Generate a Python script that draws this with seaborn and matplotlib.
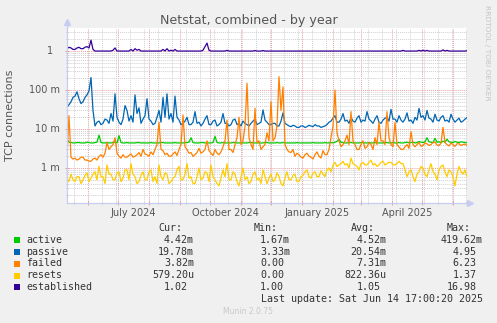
import numpy as np
import pandas as pd
import matplotlib
matplotlib.use("Agg")
import matplotlib.pyplot as plt
import matplotlib.dates as mdates
import matplotlib.transforms as mtransforms
from matplotlib.ticker import FixedLocator, NullFormatter
import seaborn as sns

# ---- data: one sample every 2 days, 2024-05-10 .. 2025-06-14 ----
series_names = ["active", "passive", "failed", "resets", "established"]
series_colors = ["#00CC00", "#0066B3", "#FF8000", "#FFCC00", "#330099"]

# values in milli-connections per second
active_m = [
    5.5, 4.6, 4.5, 4.4, 4.4, 4.5, 4.5, 4.4, 4.4, 4.4, 4.6, 4.5, 4.4, 4.4, 4.5, 4.6, 7.0, 4.5, 4.4, 4.4,
    4.5, 4.4, 4.4, 4.5, 4.6, 4.4, 6.8, 4.5, 4.4, 4.4, 4.5, 4.4, 4.4, 4.4, 4.4, 4.5, 4.5, 4.4, 4.4, 4.4,
    4.4, 4.4, 4.5, 4.4, 4.4, 4.4, 4.4, 4.5, 4.5, 4.4, 4.4, 4.4, 4.4, 4.4, 4.5, 4.4, 4.4, 4.4, 4.4, 4.5,
    4.5, 4.6, 6.0, 4.5, 4.4, 4.4, 4.4, 4.5, 4.5, 4.4, 4.4, 4.4, 4.4, 4.5, 6.5, 4.5, 4.4, 4.4, 4.5, 4.4,
    4.4, 4.4, 4.4, 4.5, 4.5, 4.4, 4.4, 4.4, 4.4, 4.4, 4.4, 4.5, 4.5, 4.4, 4.4, 4.4, 4.4, 4.4, 4.4, 4.5,
    4.5, 4.4, 4.4, 4.4, 4.4, 4.5, 4.4, 4.4, 4.5, 4.4, 4.4, 4.4, 4.4, 4.4, 4.4, 4.5, 4.4, 4.4, 4.4, 4.4,
    4.4, 4.4, 4.4, 4.5, 4.4, 4.4, 4.4, 4.4, 4.4, 4.5, 4.4, 4.4, 4.5, 4.4, 4.6, 4.8, 5.5, 4.6, 4.5, 4.4,
    4.4, 4.5, 4.5, 4.4, 4.4, 4.4, 4.4, 4.5, 4.5, 4.4, 4.4, 4.5, 4.4, 4.4, 4.5, 4.4, 4.4, 4.4, 4.4, 4.5,
    4.5, 4.4, 4.4, 4.5, 4.4, 4.4, 4.5, 4.4, 4.4, 4.5, 4.6, 4.4, 4.5, 4.6, 4.4, 4.5, 4.8, 4.6, 4.5, 4.7,
    6.0, 4.7, 4.6, 4.5, 5.8, 4.6, 4.7, 4.5, 4.9, 4.6, 5.5, 4.7, 4.6, 4.5, 4.8, 4.6, 4.5, 4.7, 4.6, 4.5,
    4.42,
]
passive_m = [
    37, 42, 50, 65, 70, 90, 60, 45, 50, 65, 75, 95, 210, 30, 12, 15, 16, 13, 14, 18,
    17, 14, 25, 16, 80, 20, 15, 13, 18, 40, 30, 16, 22, 15, 75, 25, 35, 14, 18, 22,
    60, 18, 16, 13, 14, 20, 30, 15, 65, 20, 80, 18, 25, 15, 70, 20, 17, 13, 14, 16,
    20, 13, 13, 15, 28, 14, 15, 12, 14, 18, 22, 13, 13, 16, 17, 12, 13, 15, 25, 14,
    14, 12, 13, 17, 18, 13, 14, 12, 16, 14, 13, 12, 14, 16, 18, 13, 14, 15, 31, 17,
    15, 13, 13, 14, 14, 12, 12, 16, 26, 14, 13, 12, 11.5, 12.5, 12, 11, 11, 12, 12, 11,
    11.5, 12.5, 12, 11.5, 13, 12, 12, 11, 11.5, 12, 13, 15, 16, 19, 22, 15, 15, 18, 25, 16,
    17, 14, 20, 16, 15, 19, 22, 15, 17, 16, 28, 18, 16, 14, 18, 22, 15, 14, 17, 19,
    20, 16, 32, 18, 18, 15, 22, 17, 15, 18, 26, 16, 17, 14, 20, 17, 34, 20, 22, 17,
    30, 19, 18, 15, 24, 17, 16, 20, 22, 16, 17, 15, 24, 18, 15, 17, 19, 15, 16, 18,
    19.78,
]
failed_m = [
    2.0, 22, 1.9, 1.7, 1.8, 1.6, 1.7, 1.9, 1.9, 1.6, 1.6, 1.5, 1.5, 1.7, 1.8, 1.6, 2.0, 2.2, 1.9, 2.4,
    4.5, 3.0, 3.5, 4.0, 6.0, 2.4, 2.0, 1.8, 2.2, 1.9, 1.9, 2.1, 2.3, 1.9, 2.0, 2.2, 2.5, 2.0, 3.0, 2.3,
    2.2, 2.0, 2.6, 2.2, 3.0, 4.0, 15, 3.0, 2.8, 2.2, 2.4, 2.0, 2.0, 2.3, 2.6, 2.1, 3.0, 4.0, 23, 3.5,
    3.0, 2.4, 2.5, 2.0, 2.2, 2.5, 3.2, 2.4, 2.6, 3.0, 5.0, 2.8, 2.4, 2.1, 3.0, 2.4, 2.2, 2.6, 3.5, 5.0,
    17, 3.0, 3.0, 2.5, 4.0, 6.0, 20, 4.0, 5.0, 12, 150, 6.0, 4.0, 3.0, 34, 4.5, 5.0, 3.0, 3.5, 4.0,
    8.0, 5.0, 50, 5.0, 6.0, 12, 220, 30, 120, 4.0, 3.0, 2.6, 2.5, 3.0, 2.0, 2.4, 2.2, 1.9, 1.8, 2.2,
    2.4, 2.0, 1.9, 1.7, 2.2, 2.6, 2.0, 1.8, 2.8, 2.2, 2.2, 3.0, 6.0, 12, 100, 8.0, 5.0, 3.5, 4.0, 5.0,
    7.0, 4.0, 28, 5.0, 4.0, 3.0, 3.0, 4.0, 5.0, 3.2, 3.5, 4.5, 4.0, 3.0, 6.0, 4.0, 15, 5.0, 5.0, 4.0,
    28, 6.0, 4.0, 3.5, 15, 4.0, 3.5, 3.0, 3.0, 3.5, 4.0, 3.2, 8.6, 4.0, 3.5, 4.0, 4.5, 3.6, 3.8, 4.4,
    4.2, 3.8, 4.0, 4.5, 4.6, 3.9, 3.8, 4.3, 11, 4.5, 4.0, 3.7, 4.4, 4.0, 3.6, 4.2, 4.2, 3.8, 4.0, 4.1,
    3.82,
]
resets_m = [
    0.55, 0.45, 0.7, 0.5, 0.45, 0.6, 0.6, 0.4, 0.5, 0.65, 0.75, 0.45, 0.55, 0.7, 0.8, 0.5, 1.1, 0.6, 0.6, 0.4,
    1.2, 0.7, 0.7, 0.5, 0.5, 0.75, 0.8, 0.45, 0.55, 0.9, 0.9, 0.5, 1.3, 0.7, 0.6, 0.4, 0.45, 0.65, 0.8, 0.5,
    0.5, 0.8, 0.9, 0.45, 0.6, 0.4, 1.2, 0.6, 0.5, 0.75, 0.7, 0.4, 0.45, 0.55, 0.6, 0.9, 1.1, 0.5, 0.5, 0.7,
    1.3, 0.55, 0.6, 0.4, 0.4, 0.6, 1.0, 0.5, 0.55, 0.8, 0.75, 0.45, 1.2, 0.6, 0.5, 0.4, 0.35, 0.55, 0.9, 0.6,
    1.3, 0.5, 0.5, 0.8, 0.7, 0.45, 0.35, 0.6, 1.0, 0.5, 0.6, 0.4, 0.45, 0.7, 0.8, 0.5, 0.55, 0.4, 0.9, 0.6,
    0.4, 0.55, 0.7, 0.45, 0.5, 0.75, 0.6, 0.4, 0.35, 0.55, 0.8, 0.5, 0.5, 0.65, 0.7, 0.45, 0.45, 0.6, 0.65, 0.8,
    0.9, 0.6, 0.55, 0.75, 0.8, 0.6, 0.6, 0.85, 0.7, 0.6, 0.9, 1.0, 0.8, 1.2, 1.4, 1.1, 1.2, 1.3, 1.5, 1.2,
    1.3, 1.0, 1.8, 1.3, 1.2, 1.1, 0.9, 1.3, 1.4, 1.2, 1.2, 1.4, 1.6, 1.2, 1.3, 1.1, 1.2, 1.4, 1.5, 1.2,
    1.3, 1.4, 1.4, 1.2, 1.2, 1.3, 1.5, 1.3, 1.3, 0.9, 0.6, 0.8, 0.9, 0.6, 0.45, 0.7, 0.8, 1.1, 1.0, 0.7,
    0.6, 0.9, 1.3, 0.8, 0.7, 0.5, 0.9, 1.1, 1.2, 0.8, 0.6, 0.9, 0.8, 0.6, 0.35, 0.7, 1.1, 0.8, 0.7, 0.9,
    0.5792,
]
# established connections (plain units)
established = [
    1.15, 1.25, 1.2, 1.1, 1.1, 1.2, 1.25, 1.15, 1.15, 1.25, 1.3, 1.2, 1.9, 1.1, 1.0, 1.0, 1.0, 1.0, 1.0, 1.0,
    1.0, 1.0, 1.0, 1.05, 1.2, 1.0, 1.0, 1.0, 1.0, 1.0, 1.0, 1.0, 1.1, 1.0, 1.15, 1.05, 1.1, 1.0, 1.0, 1.0,
    1.0, 1.0, 1.0, 1.0, 1.0, 1.0, 1.0, 1.0, 1.1, 1.0, 1.15, 1.0, 1.05, 1.0, 1.1, 1.0, 1.0, 1.0, 1.0, 1.0,
    1.0, 1.0, 1.0, 1.0, 1.0, 1.0, 1.0, 1.0, 1.05, 1.3, 1.6, 1.05, 1.0, 1.0, 1.0, 1.0, 1.0, 1.0, 1.0, 1.0,
    1.04, 1.0, 1.0, 1.0, 1.0, 1.0, 1.0, 1.0, 1.0, 1.0, 1.0, 1.0, 1.0, 1.0, 1.03, 1.0, 1.0, 1.0, 1.03, 1.0,
    1.0, 1.0, 1.0, 1.0, 1.0, 1.0, 1.0, 1.0, 1.0, 1.0, 1.0, 1.0, 1.0, 1.0, 1.0, 1.0, 1.0, 1.0, 1.0, 1.0,
    1.0, 1.0, 1.0, 1.0, 1.0, 1.0, 1.0, 1.0, 1.0, 1.0, 1.0, 1.0, 1.0, 1.0, 1.0, 1.0, 1.0, 1.0, 1.0, 1.0,
    1.0, 1.0, 1.0, 1.0, 1.0, 1.0, 1.0, 1.0, 1.0, 1.0, 1.0, 1.0, 1.0, 1.0, 1.0, 1.0, 1.0, 1.0, 1.0, 1.0,
    1.0, 1.0, 1.0, 1.0, 1.0, 1.0, 1.0, 1.0, 1.04, 1.0, 1.0, 1.0, 1.0, 1.0, 1.0, 1.0, 1.04, 1.0, 1.05, 1.0,
    1.04, 1.0, 1.0, 1.0, 1.0, 1.0, 1.0, 1.0, 1.07, 1.0, 1.04, 1.0, 1.0, 1.0, 1.0, 1.0, 1.0, 1.0, 1.0, 1.0,
    1.02,
]

cur_text = ["4.42m", "19.78m", "3.82m", "579.20u", "1.02"]
min_text = ["1.67m", "3.33m", "0.00", "0.00", "1.00"]
avg_text = ["4.52m", "20.54m", "7.31m", "822.36u", "1.05"]
max_text = ["419.62m", "4.95", "6.23", "1.37", "16.98"]
column_heads = ["Cur:", "Min:", "Avg:", "Max:"]

y_tick_values = [1e-3, 1e-2, 1e-1, 1.0]
y_tick_labels = ["1 m", "10 m", "100 m", "1"]
x_label_dates = ["2024-07-16", "2024-10-16", "2025-01-16", "2025-04-16"]
x_label_texts = ["July 2024", "October 2024", "January 2025", "April 2025"]

title = "Netstat, combined - by year"
last_update = "Last update: Sat Jun 14 17:00:20 2025"

# ---- long-form table ----
dates = pd.date_range("2024-05-10 17:00", periods=len(active_m), freq="2D")
values = {
    "active": np.array(active_m) / 1000.0,
    "passive": np.array(passive_m) / 1000.0,
    "failed": np.array(failed_m) / 1000.0,
    "resets": np.array(resets_m) / 1000.0,
    "established": np.array(established),
}
df = pd.concat(
    [pd.DataFrame({"date": dates, "value": values[n], "series": n}) for n in series_names],
    ignore_index=True,
)

# ---- figure ----
W, H = 497, 323
BG = "#F0F0F0"
TXT = "#555555"
AXIS = "#C8CCF0"

def fxy(x, y):
    return x / W, 1 - y / H

fig = plt.figure(figsize=(W / 100, H / 100), dpi=100, facecolor=BG)
ax = fig.add_axes([67 / W, 1 - 203 / H, 400 / W, 175 / H])
ax.set_facecolor("white")

sns.lineplot(
    data=df, x="date", y="value", hue="series", hue_order=series_names,
    palette=dict(zip(series_names, series_colors)), legend=False,
    linewidth=0.9, estimator=None, ax=ax,
)

ax.set_yscale("log")
ax.set_ylim(1.27e-4, 3.9)
ax.set_xlim(dates[0], dates[-1])
ax.set_xlabel("")
ax.set_ylabel("")

# grid: month starts / decades in red, fortnights / sub-decades in grey
months = pd.date_range("2024-06-01", "2025-06-01", freq="MS")
fortnights = pd.date_range("2024-05-18", "2025-06-14", freq="14D")
ax.xaxis.set_major_locator(FixedLocator(mdates.date2num(months)))
ax.xaxis.set_minor_locator(FixedLocator(mdates.date2num(fortnights)))
ax.xaxis.set_major_formatter(NullFormatter())
ax.xaxis.set_minor_formatter(NullFormatter())
minor_y = [k * 10.0 ** e for e in range(-4, 1) for k in range(2, 10)]
ax.yaxis.set_major_locator(FixedLocator(y_tick_values))
ax.yaxis.set_minor_locator(FixedLocator(minor_y))
ax.yaxis.set_major_formatter(NullFormatter())
ax.yaxis.set_minor_formatter(NullFormatter())

dots = (0, (1, 1))
ax.grid(which="major", color="#EBA0A0", linestyle=dots, linewidth=0.7)
ax.grid(which="minor", color="#D0D0D0", linestyle=dots, linewidth=0.7)
ax.set_axisbelow(True)
ax.tick_params(which="major", color="#E08A8A", length=2.5, width=0.6, direction="inout")
ax.tick_params(which="minor", color="#BBBBBB", length=2.0, width=0.6, direction="inout")

for s in ("top", "right"):
    ax.spines[s].set_visible(False)
for s in ("left", "bottom"):
    ax.spines[s].set_color(AXIS)
    ax.spines[s].set_linewidth(0.9)

# axis arrows
ax.plot([0, 0], [1, 1.035], transform=ax.transAxes, color=AXIS, lw=0.9, clip_on=False)
ax.plot([0], [1.035], transform=ax.transAxes, marker="^", ms=4.5, color=AXIS, clip_on=False)
ax.plot([1, 1.008], [0, 0], transform=ax.transAxes, color=AXIS, lw=0.9, clip_on=False)
ax.plot([1.008], [0], transform=ax.transAxes, marker=">", ms=4.5, color=AXIS, clip_on=False)

# y tick labels
ytrans = mtransforms.blended_transform_factory(fig.transFigure, ax.transData)
for v, lab in zip(y_tick_values, y_tick_labels):
    xr = 60 if lab.endswith("m") else 53.5
    ax.text(xr / W, v, lab, transform=ytrans, ha="right", va="center", fontsize=7, color=TXT)

# x tick labels at mid-month
xtrans = mtransforms.blended_transform_factory(ax.transData, fig.transFigure)
for d, lab in zip(x_label_dates, x_label_texts):
    ax.text(mdates.date2num(pd.Timestamp(d)), 1 - 212.5 / H, lab, transform=xtrans,
            ha="center", va="center", fontsize=7, color=TXT)

# title, axis label, side credit
fig.text(*fxy(248.5, 24), title, ha="center", va="baseline", fontsize=9.1, color=TXT)
fig.text(*fxy(10.5, 115), "TCP connections", rotation=90, ha="center", va="center", fontsize=8, color=TXT)
fig.text(*fxy(487, 5), "RRDTOOL / TOBI OETIKER", rotation=270, ha="center", va="top",
         fontsize=5.4, color="#C4C4C4")

# legend table
MONO = "DejaVu Sans Mono"
FS = 7.2
CW = FS * 100 / 72 * 0.602
col_end = [194.0, 290.0, 386.7, 482.7]
row_y = [239.7, 251.7, 263.5, 275.5, 287.3]
LEG = "#333333"

for c, head in enumerate(column_heads):
    fig.text(*fxy(col_end[c] - 2 * CW, 227.7), head, ha="right", va="center",
             family=MONO, fontsize=FS, color=LEG)

cols = [cur_text, min_text, avg_text, max_text]
for r, name in enumerate(series_names):
    y = row_y[r]
    fig.patches.append(plt.Rectangle(fxy(14, y + 3), 6 / W, 6 / H, transform=fig.transFigure,
                                     facecolor=series_colors[r], edgecolor="none"))
    fig.text(*fxy(26.3, y), name, ha="left", va="center", family=MONO, fontsize=FS, color=LEG)
    for c in range(4):
        s = cols[c][r]
        xr = col_end[c] if s[-1].isalpha() else col_end[c] - CW
        fig.text(*fxy(xr, y), s, ha="right", va="center", family=MONO, fontsize=FS, color=LEG)

fig.text(*fxy(482.7, 299.3), last_update, ha="right", va="center", family=MONO, fontsize=FS, color=LEG)
fig.text(*fxy(248, 311.7), "Munin 2.0.75", ha="center", va="center", fontsize=5.5, color="#C8C8C8")

fig.savefig("out.png", dpi=100, facecolor=BG)
